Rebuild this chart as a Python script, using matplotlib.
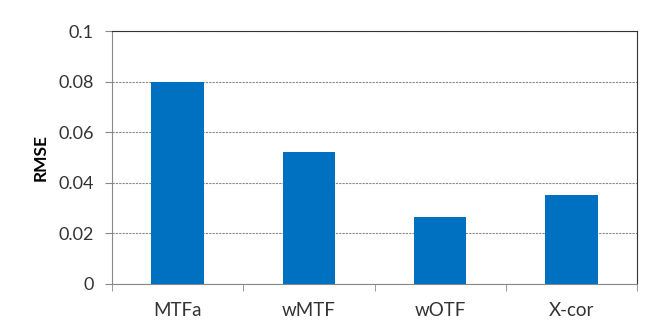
import matplotlib.pyplot as plt

categories = ["MTFa", "wMTF", "wOTF", "X-cor"]
rmse = [0.080, 0.052, 0.0265, 0.035]
yticks = [0, 0.02, 0.04, 0.06, 0.08, 0.1]
ytick_labels = ["0", "0.02", "0.04", "0.06", "0.08", "0.1"]

plt.rcParams['font.family'] = ['Lato', 'DejaVu Sans']

fig = plt.figure(figsize=(6.46, 3.21), dpi=100)
ax = fig.add_axes([112 / 646, 1 - 284 / 321, 525 / 646, 253 / 321])

x = range(len(categories))
ax.bar(x, rmse, width=0.4, color='#0070C0', zorder=3)

ax.set_xlim(-0.5, len(categories) - 0.5)
ax.set_ylim(0, 0.1)
ax.set_yticks(yticks)
ax.set_yticklabels(ytick_labels, fontsize=13, color='#333333')
ax.set_xticks(list(x))
ax.set_xticklabels(categories, fontsize=13.5, color='#333333')
ax.set_xticks([i - 0.5 for i in range(len(categories) + 1)], minor=True)
ax.tick_params(axis='x', which='major', length=0, pad=13)
ax.tick_params(axis='x', which='minor', length=5, color='#888888', direction='out')
ax.tick_params(axis='y', length=5, color='#888888', direction='out', pad=8)

ax.grid(axis='y', linestyle=(0, (2, 1)), color='#888888', linewidth=0.8, zorder=0)

for side in ['left', 'bottom']:
    ax.spines[side].set_color('#888888')
for side in ['top', 'right']:
    ax.spines[side].set_color('#333333')

ax.set_ylabel("RMSE", fontsize=12.5, fontweight='bold', labelpad=7)

fig.savefig("out.png", dpi=100)
